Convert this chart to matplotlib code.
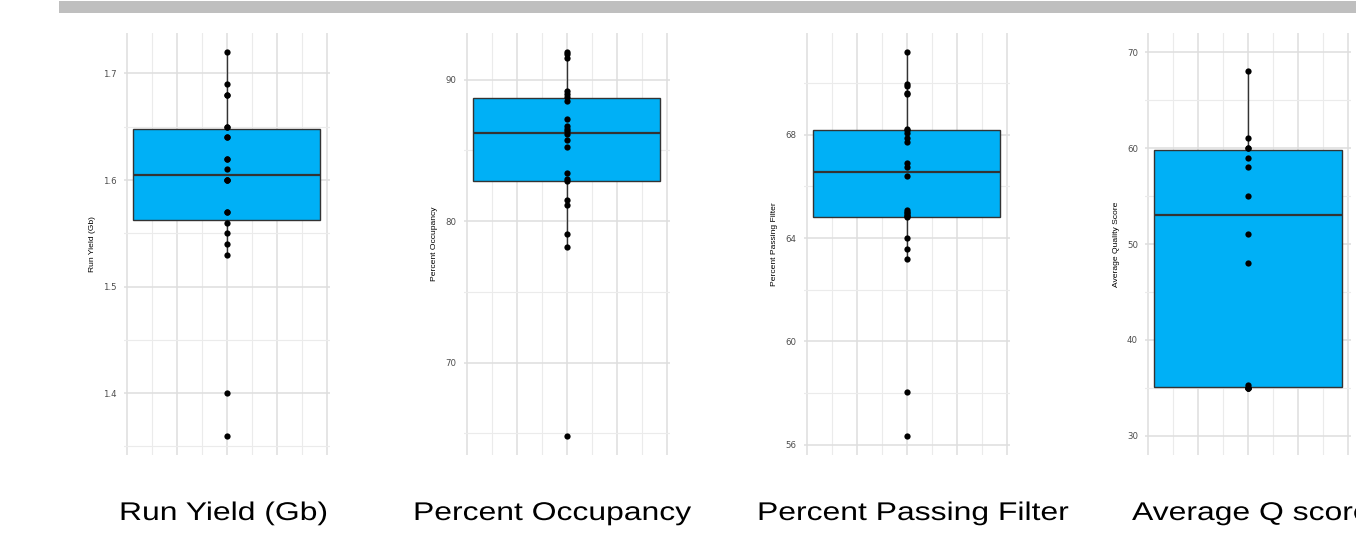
import numpy as np
import matplotlib
matplotlib.use("Agg")
import matplotlib.pyplot as plt
from matplotlib.patches import Rectangle, PathPatch
from matplotlib.textpath import TextPath
from matplotlib.font_manager import FontProperties
from matplotlib.transforms import Affine2D, IdentityTransform

# per-run QC values
run_yield = [1.36, 1.40, 1.53, 1.54, 1.55, 1.56, 1.57, 1.57, 1.60, 1.60, 1.60,
             1.61, 1.62, 1.62, 1.64, 1.64, 1.65, 1.65, 1.68, 1.68, 1.69, 1.72]
occupancy = [64.83, 78.17, 79.08, 81.11, 81.46, 82.82, 82.94, 83.41, 85.22,
             85.72, 86.14, 86.33, 86.52, 86.75, 87.23, 88.50, 88.75, 88.99,
             89.20, 91.53, 91.77, 91.93]
passing_filter = [56.34, 58.04, 63.18, 63.59, 64.00, 64.80, 64.84, 64.90,
                  64.96, 65.02, 65.08, 66.39, 66.76, 66.92, 67.73, 67.86,
                  68.08, 68.17, 68.23, 69.58, 69.62, 69.90, 69.95, 71.20]
q_score = [35.0, 35.0, 35.0, 35.0, 35.35, 48, 51, 55, 58, 59, 60, 60, 61, 68]

y_titles = ["Run Yield (Gb)", "Percent Occupancy", "Percent Passing Filter",
            "Average Quality Score"]
captions = ["Run Yield (Gb)", "Percent Occupancy", "Percent Passing Filter",
            "Average Q score"]
major_breaks = [[1.4, 1.5, 1.6, 1.7], [70, 80, 90], [56, 60, 64, 68],
                [30, 40, 50, 60, 70]]
minor_breaks = [[1.35, 1.45, 1.55, 1.65], [65, 75, 85], [58, 62, 66, 70],
                [35, 45, 55, 65]]
tick_fmt = ["{:.1f}", "{:.0f}", "{:.0f}", "{:.0f}"]
fixed_limits = [None, None, None, (30, 70)]

W, H = 1356, 533
centers = [226.7, 566.7, 906.7, 1248.0]
title_x = [93, 435, 775, 1117]
caption_x = [119, 413, 757, 1132]
half_w = 103.1
top, bottom = 33, 455

fill = "#00B0F6"
edge = "#333333"

fig = plt.figure(figsize=(W / 100, H / 100), dpi=100)

# grey banner across the top
fig.add_artist(Rectangle((59 / W, (H - 12.5) / H), (W - 59) / W, 11 / H,
                         transform=fig.transFigure, color="#bfbfbf", lw=0))

cap_font = FontProperties(family="Liberation Sans")


def wide_text(x_px, base_px, s, size_px, stretch):
    # caption text widened horizontally, placed in pixel coords from the top
    tp = TextPath((0, 0), s, size=size_px, prop=cap_font)
    tr = Affine2D().scale(stretch, 1).translate(x_px, H - base_px)
    fig.add_artist(PathPatch(tp, transform=tr + IdentityTransform(),
                             color="black", lw=0))


datasets = [run_yield, occupancy, passing_filter, q_score]
for i, vals in enumerate(datasets):
    vals = np.array(vals)
    ax = fig.add_axes([(centers[i] - half_w) / W, (H - bottom) / H,
                       2 * half_w / W, (bottom - top) / H])

    if fixed_limits[i] is None:
        lo, hi = vals.min(), vals.max()
    else:
        lo, hi = fixed_limits[i]
    pad = 0.05 * (hi - lo)
    ax.set_ylim(lo - pad, hi + pad)
    ax.set_xlim(-0.4125, 0.4125)

    ax.set_xticks([-0.4, -0.2, 0, 0.2, 0.4])
    ax.set_xticks([-0.3, -0.1, 0.1, 0.3], minor=True)
    ax.set_yticks(major_breaks[i])
    ax.set_yticks(minor_breaks[i], minor=True)
    ax.set_yticklabels([tick_fmt[i].format(v) for v in major_breaks[i]],
                       family="DejaVu Sans", fontsize=6.2, color="#4d4d4d")
    ax.set_xticklabels([])
    ax.tick_params(which="both", length=0)
    ax.tick_params(axis="y", pad=5)
    ax.grid(which="major", color="#dedede", lw=1.1)
    ax.grid(which="minor", color="#ebebeb", lw=0.8)
    ax.set_axisbelow(True)
    for s in ax.spines.values():
        s.set_visible(False)

    ax.boxplot(vals, positions=[0], widths=0.75, patch_artist=True,
               showfliers=False, showcaps=False, manage_ticks=False,
               boxprops=dict(facecolor=fill, edgecolor=edge, lw=1.0),
               medianprops=dict(color=edge, lw=1.6),
               whiskerprops=dict(color=edge, lw=1.0))
    ax.plot(np.zeros(len(vals)), vals, "o", color="black", ms=4.5,
            mew=0, zorder=5)

    fig.text(title_x[i] / W, (H - (top + bottom) / 2) / H, y_titles[i],
             rotation=90, ha="center", va="center",
             family="Liberation Sans", fontsize=6.1, color="black")
    wide_text(caption_x[i], 520, captions[i], 25.6, 1.245)

fig.savefig("out.png", dpi=100, facecolor="white")
